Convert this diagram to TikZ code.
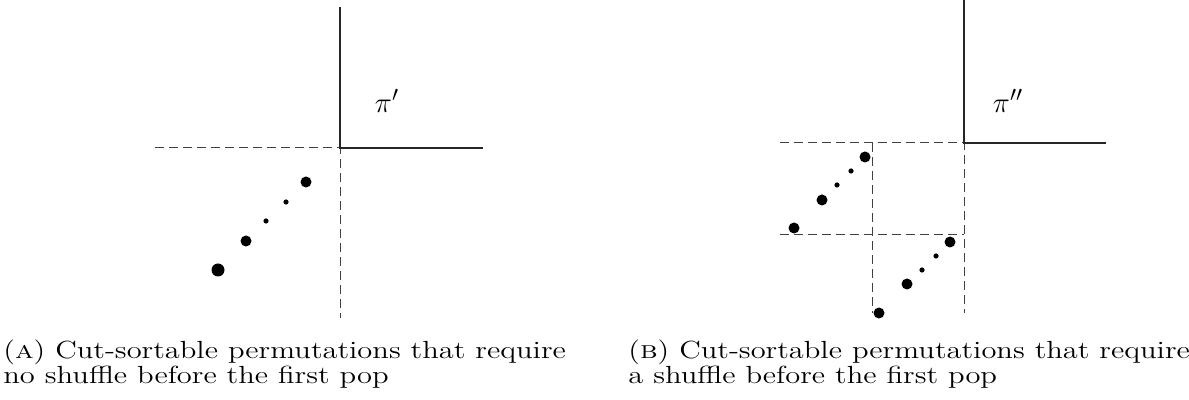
\documentclass[tikz,border=0pt]{standalone}
\begin{document}
\begin{tikzpicture}[x=0.5pt,y=-0.5pt,
  dline/.style={dashed,dash pattern=on 4.5pt off 2.5pt,black!75,line width=0.5pt},
  sline/.style={black!85,line width=0.6pt},
  bigdot/.style={circle,fill=black,inner sep=0pt,minimum size=5.5pt},
  hugedot/.style={circle,fill=black,inner sep=0pt,minimum size=6.5pt},
  smalldot/.style={circle,fill=black,inner sep=0pt,minimum size=2.6pt},
  pilabel/.style={font=\fontsize{15pt}{18pt}\selectfont},
  captext/.style={anchor=base west,inner sep=0pt,font=\fontsize{12.4pt}{12.5pt}\selectfont}]
\useasboundingbox (0,0) rectangle (1189,400);
% Panel A
\coordinate (Ao) at (340,148);
\coordinate (Atop) at (340,7);
\coordinate (Abot) at (340,318);
\coordinate (Aleft) at (155,148);
\coordinate (Aright) at (483,148);
\draw[dline] (Aleft) -- (Ao) -- (Abot);
\draw[sline] (Atop) -- (Ao) -- (Aright);
\node[pilabel] (piA) at (387,101) {$\pi'$};
\node[hugedot] (a1) at (218,270) {};
\node[bigdot] (a2) at (246,241) {};
\node[smalldot] (a3) at (266,221) {};
\node[smalldot] (a4) at (286,202) {};
\node[bigdot] (a5) at (306,182) {};
% Panel B
\coordinate (Bo) at (964,143);
\coordinate (Btop) at (964,0);
\coordinate (Bbot) at (964,313);
\coordinate (Bleft) at (780,143);
\coordinate (Bright) at (1106,143);
\coordinate (Bi) at (872,143);
\coordinate (Bibot) at (872,313);
\coordinate (Bml) at (780,235);
\coordinate (Bmr) at (964,235);
\draw[dline] (Bleft) -- (Bo) -- (Bbot);
\draw[dline] (Bi) -- (Bibot);
\draw[dline] (Bml) -- (Bmr);
\draw[sline] (Btop) -- (Bo) -- (Bright);
\node[pilabel] (piB) at (1008,101) {$\pi''$};
\node[bigdot] (b1) at (794,228) {};
\node[bigdot] (b2) at (822,200) {};
\node[smalldot] (b3) at (837,185) {};
\node[smalldot] (b4) at (851,171) {};
\node[bigdot] (b5) at (865,157) {};
\node[bigdot] (c1) at (879,313) {};
\node[bigdot] (c2) at (907,284) {};
\node[smalldot] (c3) at (922,270) {};
\node[smalldot] (c4) at (936,256) {};
\node[bigdot] (c5) at (950,242) {};
% Captions
\node[captext] (capA) at (3,359) {\scalebox{1.23}[1]{\begin{tabular}[t]{@{}l@{}}(\textsc{a}) Cut-sortable permutations that require\\no shuffle before the first pop\end{tabular}}};
\node[captext] (capB) at (628,359) {\scalebox{1.23}[1]{\begin{tabular}[t]{@{}l@{}}(\textsc{b}) Cut-sortable permutations that require\\a shuffle before the first pop\end{tabular}}};
\end{tikzpicture}
\end{document}
